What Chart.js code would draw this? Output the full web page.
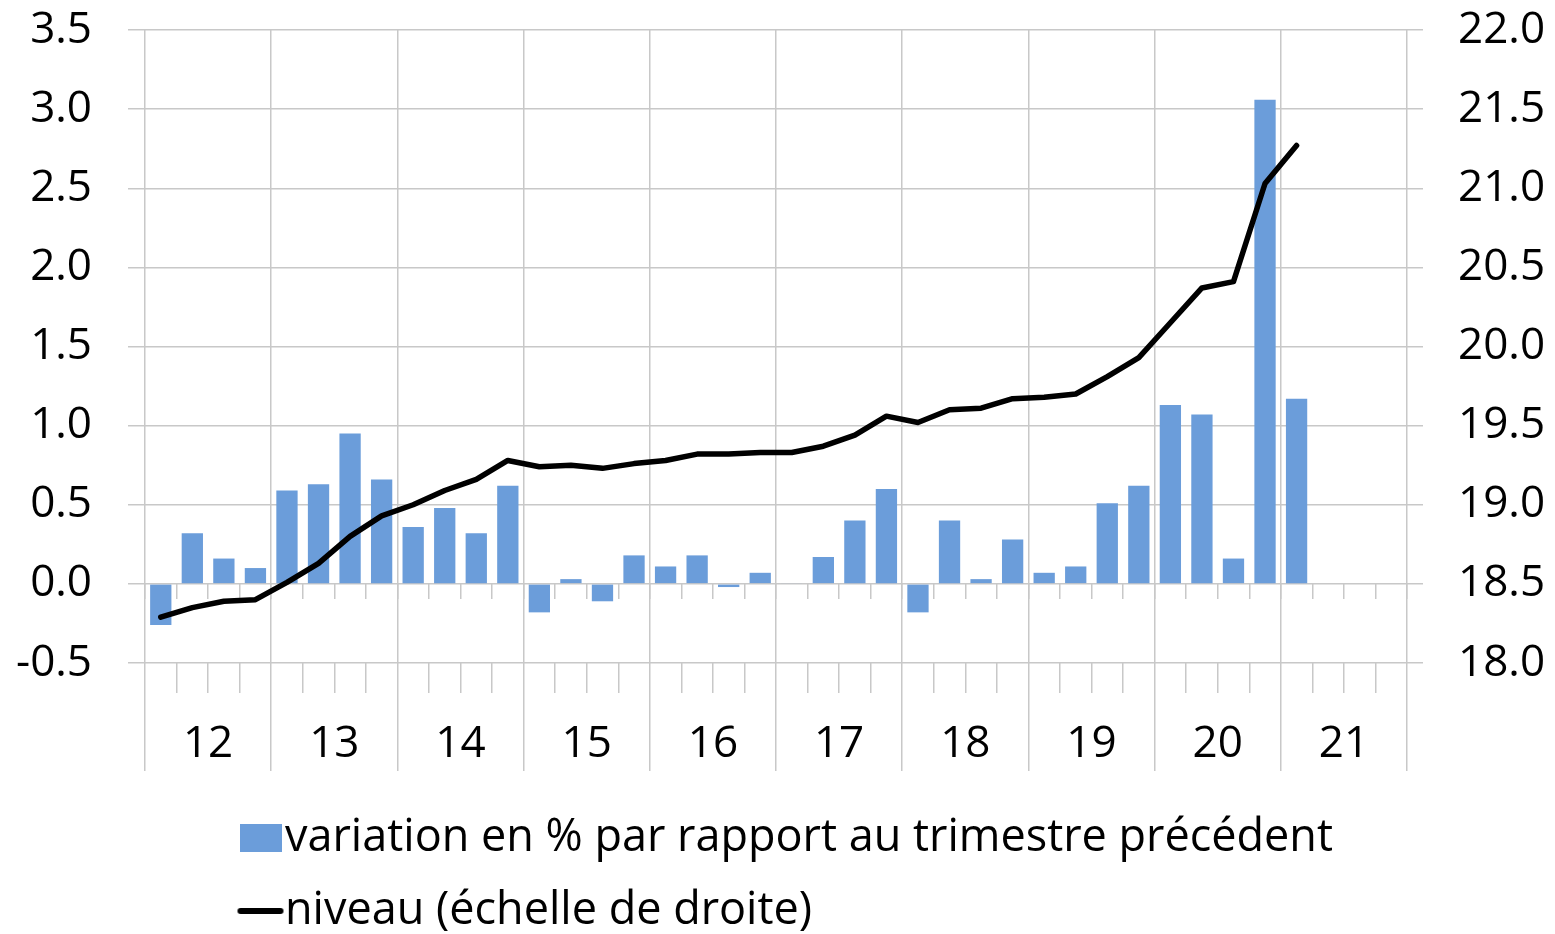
<!DOCTYPE html>
<html lang="fr">
<head>
<meta charset="utf-8">
<title>Variation trimestrielle et niveau</title>
<script src="https://cdn.jsdelivr.net/npm/chart.js@4.4.1/dist/chart.umd.min.js"></script>
<style>
  html, body { margin: 0; padding: 0; background: #fff; }
  #wrap { width: 1555px; height: 934px; }
</style>
</head>
<body>
<div id="wrap"><canvas id="chart" width="1555" height="934"></canvas></div>
<script>
// Axis labels
const years = ['12', '13', '14', '15', '16', '17', '18', '19', '20', '21'];
const quarters = years.flatMap(y => [y + 'T1', y + 'T2', y + 'T3', y + 'T4']);

// Series (2012T1 .. 2021T1)
const variation = [
    -0.26, 0.32, 0.16, 0.10,
    0.59, 0.63, 0.95, 0.66,
    0.36, 0.48, 0.32, 0.62,
    -0.18, 0.03, -0.11, 0.18,
    0.11, 0.18, -0.02, 0.07,
    0.005, 0.17, 0.40, 0.60,
    -0.18, 0.40, 0.03, 0.28,
    0.07, 0.11, 0.51, 0.62,
    1.13, 1.07, 0.16, 3.06,
    1.17
];
const niveau = [
    18.29, 18.35, 18.39, 18.40,
    18.51, 18.63, 18.80, 18.93,
    19.00, 19.09, 19.16, 19.28,
    19.24, 19.25, 19.23, 19.26,
    19.28, 19.32, 19.32, 19.33,
    19.33, 19.37, 19.44, 19.56,
    19.52, 19.60, 19.61, 19.67,
    19.68, 19.70, 19.81, 19.93,
    20.15, 20.37, 20.41, 21.03,
    21.27
];

// Axis ranges
const leftRange = [-0.5, 3.5];
const rightRange = [18.0, 22.0];
const tickStep = 0.5;

const seriesNames = ['variation en % par rapport au trimestre précédent', 'niveau (échelle de droite)'];

const barColor = '#6b9dda';
const gridColor = '#c8c8c8';
const gridWidth = 1.5;
const fontSize = 44;
const legendFontSize = 45;

Chart.defaults.font.family = "'Open Sans', sans-serif";
Chart.defaults.font.size = fontSize;
Chart.defaults.color = '#000';

// Legend icons
function makeIcon(w, h, draw) {
    const c = document.createElement('canvas');
    c.width = w;
    c.height = h;
    draw(c.getContext('2d'));
    return c;
}
const barIcon = makeIcon(42, 28, ctx => {
    ctx.fillStyle = barColor;
    ctx.fillRect(0, 0, 42, 28);
});
const lineIcon = makeIcon(48, 10, ctx => {
    ctx.strokeStyle = '#000';
    ctx.lineWidth = 6;
    ctx.lineCap = 'round';
    ctx.beginPath();
    ctx.moveTo(4, 5);
    ctx.lineTo(44, 5);
    ctx.stroke();
});

// Put the legend rows left aligned under the plot, like the original
const legendPlacer = {
    id: 'legendPlacer',
    afterLayout(chart) {
        const lg = chart.legend;
        lg.left = 230.5;
        lg.top = 787.5;
        lg.bottom = 934;
    }
};

// keep the plot top on the 3.5 / 22.0 line
function noLabelPadding(s) {
    s.paddingTop = 0;
    s.paddingBottom = 0;
}

new Chart(document.getElementById('chart'), {
    type: 'bar',
    data: {
        labels: quarters,
        datasets: [{
            type: 'bar',
            label: seriesNames[0],
            data: variation,
            backgroundColor: barColor,
            borderWidth: 0,
            xAxisID: 'x',
            yAxisID: 'y',
            barPercentage: 0.675,
            categoryPercentage: 1,
            order: 1
        }, {
            type: 'line',
            label: seriesNames[1],
            data: niveau,
            borderColor: '#000',
            backgroundColor: '#000',
            borderWidth: 5.5,
            borderCapStyle: 'round',
            borderJoinStyle: 'round',
            pointRadius: 0,
            tension: 0,
            xAxisID: 'x',
            yAxisID: 'y2',
            order: 0
        }]
    },
    options: {
        responsive: false,
        animation: false,
        layout: { padding: { top: 30, left: 0, right: 0, bottom: 0 } },
        plugins: {
            tooltip: { enabled: false },
            legend: {
                position: 'bottom',
                align: 'start',
                labels: {
                    usePointStyle: true,
                    boxWidth: 4,
                    padding: 28,
                    color: '#000',
                    font: { size: legendFontSize },
                    generateLabels: function(chart) {
                        const items = Chart.defaults.plugins.legend.labels.generateLabels(chart);
                        items.sort((a, b) => a.datasetIndex - b.datasetIndex);
                        items[0].pointStyle = barIcon;
                        items[1].pointStyle = lineIcon;
                        return items;
                    }
                }
            }
        },
        scales: {
            x: {
                type: 'category',
                position: 'bottom',
                weight: 0,
                offset: true,
                grid: { offset: true, drawOnChartArea: false, tickLength: 30, color: gridColor, lineWidth: gridWidth },
                border: { display: false },
                ticks: { display: false, autoSkip: false },
                afterFit: s => { s.height = 30; }
            },
            x2: {
                type: 'category',
                axis: 'x',
                position: 'bottom',
                weight: 1,
                labels: years,
                offset: true,
                grid: { offset: true, drawOnChartArea: true, tickLength: 78, color: gridColor, lineWidth: gridWidth },
                border: { display: false },
                ticks: { autoSkip: false, maxRotation: 0, padding: -49, font: { size: fontSize, lineHeight: 1 } },
                afterFit: s => { s.height = 85; }
            },
            xz: {
                type: 'category',
                axis: 'x',
                position: { y: 0 },
                labels: quarters,
                offset: true,
                grid: { offset: true, drawOnChartArea: false, tickLength: 15, color: gridColor, lineWidth: gridWidth },
                border: { display: false },
                ticks: { display: false, autoSkip: false }
            },
            y: {
                type: 'linear',
                position: 'left',
                min: leftRange[0],
                max: leftRange[1],
                grid: { tickLength: 17, color: gridColor, lineWidth: gridWidth },
                border: { display: false },
                ticks: { stepSize: tickStep, padding: 36, callback: v => v.toFixed(1) },
                afterFit: s => { s.width = 145; noLabelPadding(s); }
            },
            y2: {
                type: 'linear',
                position: 'right',
                min: rightRange[0],
                max: rightRange[1],
                grid: { drawOnChartArea: false, tickLength: 16, color: gridColor, lineWidth: gridWidth },
                border: { display: false },
                ticks: { stepSize: tickStep, padding: 35, callback: v => v.toFixed(1) },
                afterFit: s => { s.width = 148; noLabelPadding(s); }
            }
        }
    },
    plugins: [legendPlacer]
});
</script>
</body>
</html>
